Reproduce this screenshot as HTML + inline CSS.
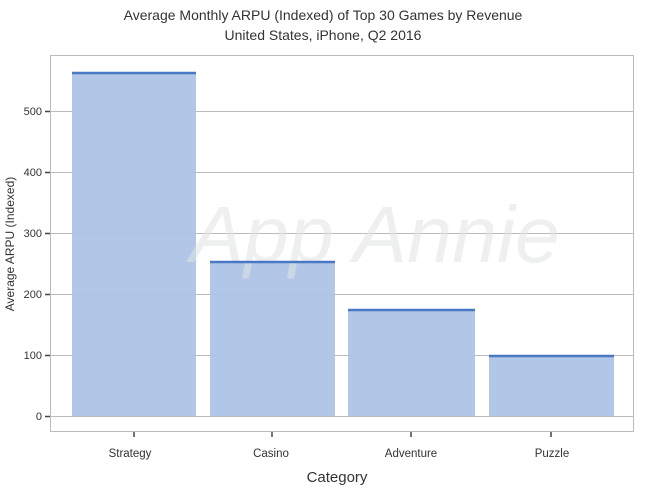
<!DOCTYPE html>
<html><head><style>
body{margin:0;background:#fff;}
svg{display:block;font-family:"Liberation Sans",sans-serif;}
</style></head><body>
<svg width="646" height="489" viewBox="0 0 646 489">
<rect width="646" height="489" fill="#fff"/>
<text x="323" y="20" font-size="14" text-anchor="middle" fill="#333">Average Monthly ARPU (Indexed) of Top 30 Games by Revenue</text>
<text x="323" y="40" font-size="14" text-anchor="middle" fill="#333">United States, iPhone, Q2 2016</text>
<g stroke="#bbb" stroke-width="1">
<line x1="50" x2="633" y1="416.5" y2="416.5"/>
<line x1="50" x2="633" y1="355.5" y2="355.5"/>
<line x1="50" x2="633" y1="294.5" y2="294.5"/>
<line x1="50" x2="633" y1="233.5" y2="233.5"/>
<line x1="50" x2="633" y1="172.5" y2="172.5"/>
<line x1="50" x2="633" y1="111.5" y2="111.5"/>
</g>
<g fill="#aec3e6" fill-opacity="0.95">
<rect x="72" y="73" width="124" height="343"/>
<rect x="210" y="261" width="125" height="155"/>
<rect x="348" y="309" width="127" height="107"/>
<rect x="489" y="355" width="125" height="61"/>
</g>
<text x="190" y="262" font-size="80" font-style="italic" textLength="370" lengthAdjust="spacingAndGlyphs" fill="#dfe5e3" opacity="0.55">App Annie</text>
<g stroke="#4a78c4" stroke-width="2.5">
<line x1="72" x2="196" y1="73" y2="73"/>
<line x1="210" x2="335" y1="262" y2="262"/>
<line x1="348" x2="475" y1="310" y2="310"/>
<line x1="489" x2="614" y1="356" y2="356"/>
</g>
<rect x="50.5" y="55.5" width="583" height="376" fill="none" stroke="#bbb"/>
<g stroke="#444" stroke-width="1.5">
<line x1="45" x2="50" y1="416.5" y2="416.5"/>
<line x1="45" x2="50" y1="355.5" y2="355.5"/>
<line x1="45" x2="50" y1="294.5" y2="294.5"/>
<line x1="45" x2="50" y1="233.5" y2="233.5"/>
<line x1="45" x2="50" y1="172.5" y2="172.5"/>
<line x1="45" x2="50" y1="111.5" y2="111.5"/>
<line x1="134" x2="134" y1="432" y2="437"/>
<line x1="272" x2="272" y1="432" y2="437"/>
<line x1="411" x2="411" y1="432" y2="437"/>
<line x1="551" x2="551" y1="432" y2="437"/>
</g>
<g font-size="11" fill="#333" text-anchor="end">
<text x="42" y="420">0</text>
<text x="42" y="359">100</text>
<text x="42" y="298">200</text>
<text x="42" y="237">300</text>
<text x="42" y="176">400</text>
<text x="42" y="115">500</text>
</g>
<g font-size="11.5" fill="#333" text-anchor="middle">
<text x="130" y="457">Strategy</text>
<text x="271" y="457">Casino</text>
<text x="411" y="457">Adventure</text>
<text x="552" y="457">Puzzle</text>
</g>
<text x="337" y="482" font-size="15" text-anchor="middle" fill="#333">Category</text>
<text transform="translate(14,244) rotate(-90)" font-size="12" text-anchor="middle" fill="#333">Average ARPU (Indexed)</text>
</svg>
</body></html>
